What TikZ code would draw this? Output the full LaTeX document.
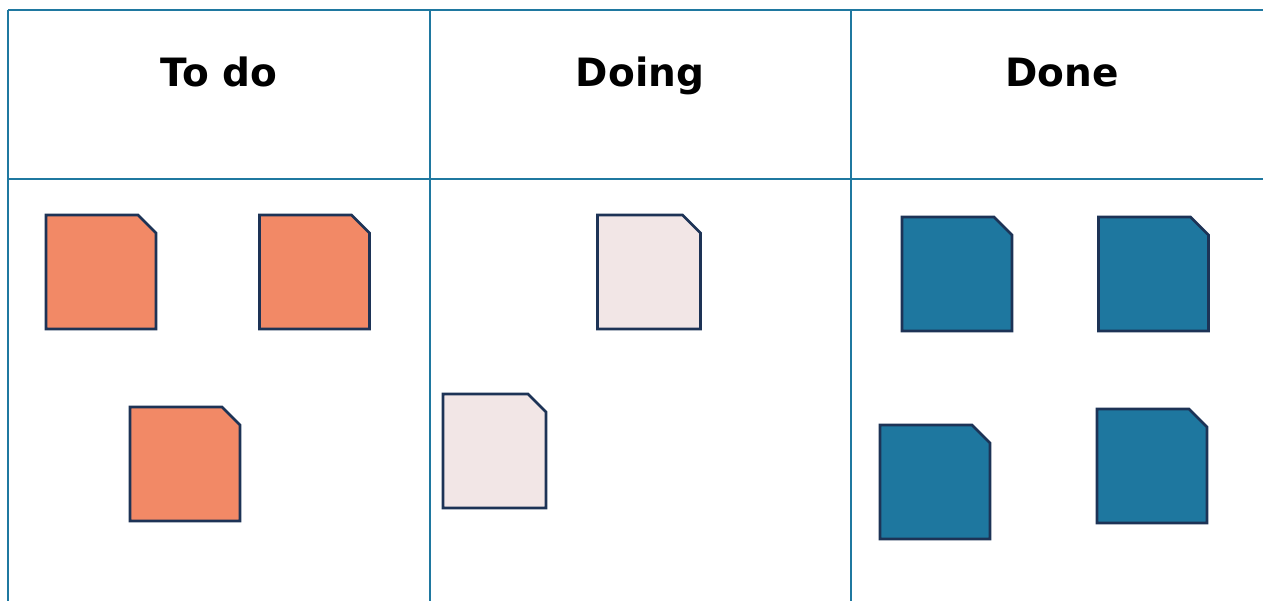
\documentclass[tikz,border=0pt]{standalone}
\usepackage{fontspec}
\setmainfont{DejaVu Sans}
\usetikzlibrary{positioning}

\definecolor{gridline}{HTML}{1F78A0}
\definecolor{cardline}{HTML}{1D3356}
\definecolor{todofill}{HTML}{F28966}
\definecolor{doingfill}{HTML}{F2E6E6}
\definecolor{donefill}{HTML}{1E779F}

\begin{document}
\begin{tikzpicture}[
      x=1pt, y=-1pt,
      grid/.style={draw=gridline, line width=2pt},
      head/.style={font=\fontsize{39}{44}\selectfont\bfseries, inner sep=0pt, anchor=base},
      card/.style={rectangle, inner sep=0pt, outer sep=0pt, minimum height=114pt,
        append after command={\pgfextra{\draw[draw=cardline, fill=#1, line width=2.8pt]
          (\tikzlastnode.south west) -- (\tikzlastnode.north west)
          -- ([xshift=-18pt]\tikzlastnode.north east)
          -- ([yshift=-18pt]\tikzlastnode.north east)
          -- (\tikzlastnode.south east) -- cycle;}}},
      todo/.style={card=todofill, minimum width=110pt},
      doing/.style={card=doingfill, minimum width=103pt},
      done/.style={card=donefill, minimum width=110pt}
    ]
    \useasboundingbox (0,0) rectangle (1263,601);

    % board
    \coordinate (tl) at (8,10);
    \coordinate (hl) at (8,179);
    \draw[grid] (tl) -- (1263,10);
    \draw[grid] (hl) -- (1263,179);
    \draw[grid] (tl) -- (8,601);
    \draw[grid] (430,10) -- (430,601);
    \draw[grid] (851,10) -- (851,601);

    % column titles
    \node[head] (todo) at (219,87) {To do};
    \node[head] (doing) at (640,87) {Doing};
    \node[head] (done) at (1062,87) {Done};

    % cards
    \node[todo] (todoA) at (101,272) {};
    \node[todo] (todoB) at (314.5,272) {};
    \node[todo] (todoC) at (185,464) {};
    \node[doing] (doingA) at (649,272) {};
    \node[doing] (doingB) at (494.5,451) {};
    \node[done] (doneA) at (957,274) {};
    \node[done] (doneB) at (1153.5,274) {};
    \node[done] (doneC) at (935,482) {};
    \node[done] (doneD) at (1152,466) {};
  \end{tikzpicture}
\end{document}
